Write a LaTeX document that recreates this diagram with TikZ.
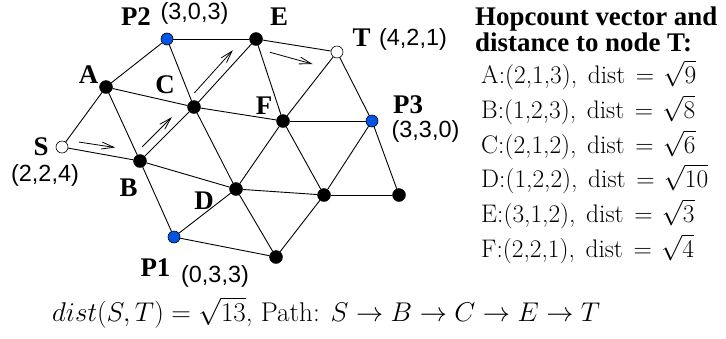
\RequirePackage{fix-cm}
\documentclass[tikz,border=0pt]{standalone}
\usepackage{fontspec}
\newfontfamily\labfont{Liberation Serif}
\newfontfamily\coordfont{Liberation Sans}
\usetikzlibrary{arrows.meta,calc}
\definecolor{nodeblue}{RGB}{0,85,230}
\newcommand\hopline[3]{#1:(#2),\hspace{0.42em}dist\hspace{0.42em}$=$\hspace{0.36em}$\sqrt{#3}$}
\begin{document}
\begin{tikzpicture}[x=1bp,y=-1bp,
  dot/.style={circle,draw=black,fill=black,inner sep=0pt,minimum size=13bp},
  bluedot/.style={circle,draw=black,fill=nodeblue,inner sep=0pt,minimum size=12bp,line width=0.6bp},
  whitedot/.style={circle,draw=black,fill=white,inner sep=0pt,minimum size=12bp,line width=0.6bp},
  edge/.style={line width=0.9bp},
  patharrow/.style={line width=0.8bp,-{Straight Barb[length=12bp,width=7bp]}},
  lbl/.style={font=\labfont\bfseries\fontsize{27}{27}\selectfont,inner sep=0pt},
  crd/.style={font=\coordfont\fontsize{23.5}{23.5}\selectfont,inner sep=0pt},
  listtxt/.style={font=\fontsize{25.5}{25.5}\selectfont,inner sep=0pt,anchor=base west},
  bottxt/.style={font=\fontsize{27.2}{27.2}\selectfont,inner sep=0pt,anchor=base west},
  headtxt/.style={font=\labfont\bfseries\fontsize{27}{23}\selectfont,inner sep=0pt,align=left},
]
\useasboundingbox (0,0) rectangle (726,338);
% graph nodes
\node[whitedot] (S) at (62,147) {};
\node[dot] (A) at (106,87) {};
\node[bluedot] (P2) at (167,39) {};
\node[dot] (E) at (256,39) {};
\node[whitedot] (T) at (337,52) {};
\node[dot] (C) at (194,107) {};
\node[dot] (F) at (283,121) {};
\node[bluedot] (P3) at (372,121) {};
\node[dot] (B) at (140,161) {};
\node[dot] (D) at (236,189) {};
\node[dot] (G) at (324,195) {};
\node[dot] (H) at (399,195) {};
\node[bluedot] (P1) at (174,237) {};
\node[dot] (I) at (276,257) {};
% edges
\foreach \u/\v in {S/A,S/B,A/P2,A/C,A/B,P2/E,P2/C,B/C,C/E,C/F,C/D,E/F,E/T,T/F,T/P3,F/P3,B/D,B/P1,P1/D,P1/I,D/I,D/F,D/G,F/G,G/P3,P3/H,G/H,G/I}
  \draw[edge] (\u) -- (\v);
% path arrows
\draw[patharrow] ($(S)!0.22!(B)+(0,-8)$) -- ($(S)!0.68!(B)+(0,-9)$);
\draw[patharrow] ($(B)!0.15!(C)+(-6,-6)$) -- ($(B)!0.70!(C)+(-6,-6)$);
\draw[patharrow] ($(C)!0.12!(E)+(-7,-6)$) -- ($(C)!0.74!(E)+(-7,-6.5)$);
\draw[patharrow] ($(E)!0.17!(T)+(0,11)$) -- ($(E)!0.70!(T)+(0,16)$);
% labels
\node[lbl] (lP2) at (136,16.5) {P2};
\node[crd] (cP2) at (194.5,13.5) {(3,0,3)};
\node[lbl] (lE) at (279,17) {E};
\node[lbl] (lT) at (361.5,37.5) {T};
\node[crd] (cT) at (413,39) {(4,2,1)};
\node[lbl] (lA) at (88.5,75) {A};
\node[lbl] (lC) at (165,85) {C};
\node[lbl] (lF) at (264,106) {F};
\node[lbl] (lP3) at (408,105) {P3};
\node[crd] (cP3) at (425.5,131) {(3,3,0)};
\node[lbl] (lS) at (41,147) {S};
\node[crd] (cS) at (45,175) {(2,2,4)};
\node[lbl] (lB) at (128.5,187.5) {B};
\node[lbl] (lD) at (204,201) {D};
\node[lbl] (lP1) at (155.5,267.5) {P1};
\node[crd] (cP1) at (215,276) {(0,3,3)};
% right text
\node[headtxt,anchor=base west] (head) at (475,51) {Hopcount vector and\\distance to node T:};
\node[listtxt] (la) at (481,83) {\hopline{A}{2,1,3}{9}};
\node[listtxt] (lb) at (481,118) {\hopline{B}{1,2,3}{8}};
\node[listtxt] (lc) at (481,153) {\hopline{C}{2,1,2}{6}};
\node[listtxt] (ld) at (481,187) {\hopline{D}{1,2,2}{10}};
\node[listtxt] (le) at (481,222) {\hopline{E}{3,1,2}{3}};
\node[listtxt] (lf) at (481,257) {\hopline{F}{2,2,1}{4}};
% bottom formula
\node[bottxt] (bot) at (52,321) {$dist(S,T)=\sqrt{13}$, Path: $S\rightarrow B\rightarrow C\rightarrow E\rightarrow T$};
\end{tikzpicture}
\end{document}
